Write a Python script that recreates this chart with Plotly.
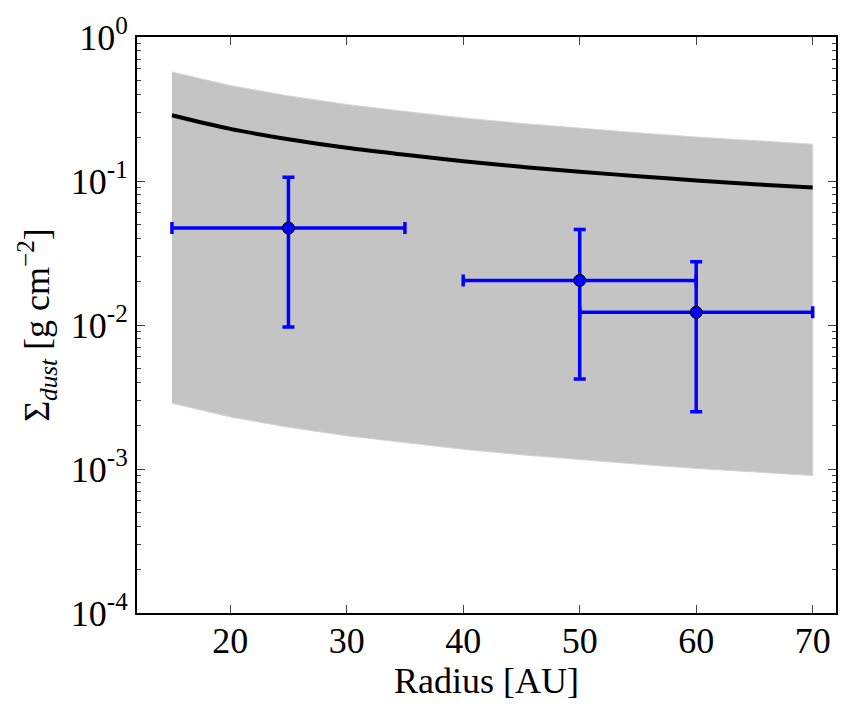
import plotly.graph_objects as go

# Model curve
radius_model = [15, 20, 25, 30, 35, 40, 45, 50, 55, 60, 65, 70]
sigma_model = [0.286, 0.230, 0.195, 0.170, 0.152, 0.137, 0.1255, 0.116, 0.108, 0.101, 0.095, 0.090]
sigma_upper = [0.572, 0.460, 0.390, 0.340, 0.304, 0.274, 0.251, 0.232, 0.216, 0.202, 0.190, 0.180]
sigma_lower = [0.00286, 0.00230, 0.00195, 0.00170, 0.00152, 0.00137, 0.001255, 0.00116, 0.00108, 0.00101, 0.00095, 0.00090]

# Observed points
radius_obs = [25, 50, 60]
radius_lo = [15, 40, 50]
radius_hi = [35, 60, 70]
sigma_obs = [0.0471, 0.0204, 0.01225]
sigma_obs_hi = [0.106, 0.0461, 0.0275]
sigma_obs_lo = [0.0097, 0.00422, 0.0025]

x_ticks = [20, 30, 40, 50, 60, 70]
y_ticks = [1e-4, 1e-3, 1e-2, 1e-1, 1]
y_ticktext = ["10<sup>-4</sup>", "10<sup>-3</sup>", "10<sup>-2</sup>", "10<sup>-1</sup>", "10<sup>0</sup>"]

fig = go.Figure()

fig.add_trace(go.Scatter(
    x=radius_model + radius_model[::-1],
    y=sigma_upper + sigma_lower[::-1],
    fill="toself", fillcolor="rgb(196,196,196)",
    line=dict(color="rgb(212,212,212)", width=1),
    mode="lines", hoverinfo="skip", showlegend=False))

fig.add_trace(go.Scatter(
    x=radius_model, y=sigma_model, mode="lines",
    line=dict(color="black", width=4, shape="spline"), showlegend=False))

fig.add_trace(go.Scatter(
    x=radius_obs, y=sigma_obs, mode="markers",
    marker=dict(color="blue", size=12, line=dict(color="black", width=1)),
    error_x=dict(type="data", symmetric=False,
                 array=[h - c for h, c in zip(radius_hi, radius_obs)],
                 arrayminus=[c - l for l, c in zip(radius_lo, radius_obs)],
                 color="blue", thickness=3.5, width=6),
    error_y=dict(type="data", symmetric=False,
                 array=[h - c for h, c in zip(sigma_obs_hi, sigma_obs)],
                 arrayminus=[c - l for l, c in zip(sigma_obs_lo, sigma_obs)],
                 color="blue", thickness=3.5, width=6),
    showlegend=False))

font_family = "Liberation Serif"
fig.update_layout(
    width=851, height=715,
    margin=dict(l=137, r=15, t=31, b=102),
    paper_bgcolor="white", plot_bgcolor="white",
    font=dict(family=font_family, size=36, color="black"),
    xaxis=dict(
        range=[12, 72], tickvals=x_ticks, ticks="inside", ticklen=8, tickwidth=1,
        showline=True, linecolor="black", linewidth=2, mirror="allticks",
        showgrid=False, zeroline=False, ticklabelstandoff=-5,
        tickfont=dict(size=36, family=font_family),
        title=dict(text="Radius [AU]", font=dict(size=36, family=font_family), standoff=2),
    ),
    yaxis=dict(
        type="log", range=[-4, 0], tickvals=y_ticks, ticktext=y_ticktext,
        ticks="inside", ticklen=8, tickwidth=1,
        showline=True, linecolor="black", linewidth=2, mirror="allticks",
        showgrid=False, zeroline=False,
        tickfont=dict(size=36, family=font_family),
        minor=dict(ticks="inside", ticklen=4, tickwidth=1, dtick="D1", showgrid=False),
        title=dict(text="Σ<sub><i>dust</i></sub> [g cm<sup>−2</sup>]",
                   font=dict(size=36, family=font_family), standoff=10),
    ),
)

fig.write_html("out.html")
